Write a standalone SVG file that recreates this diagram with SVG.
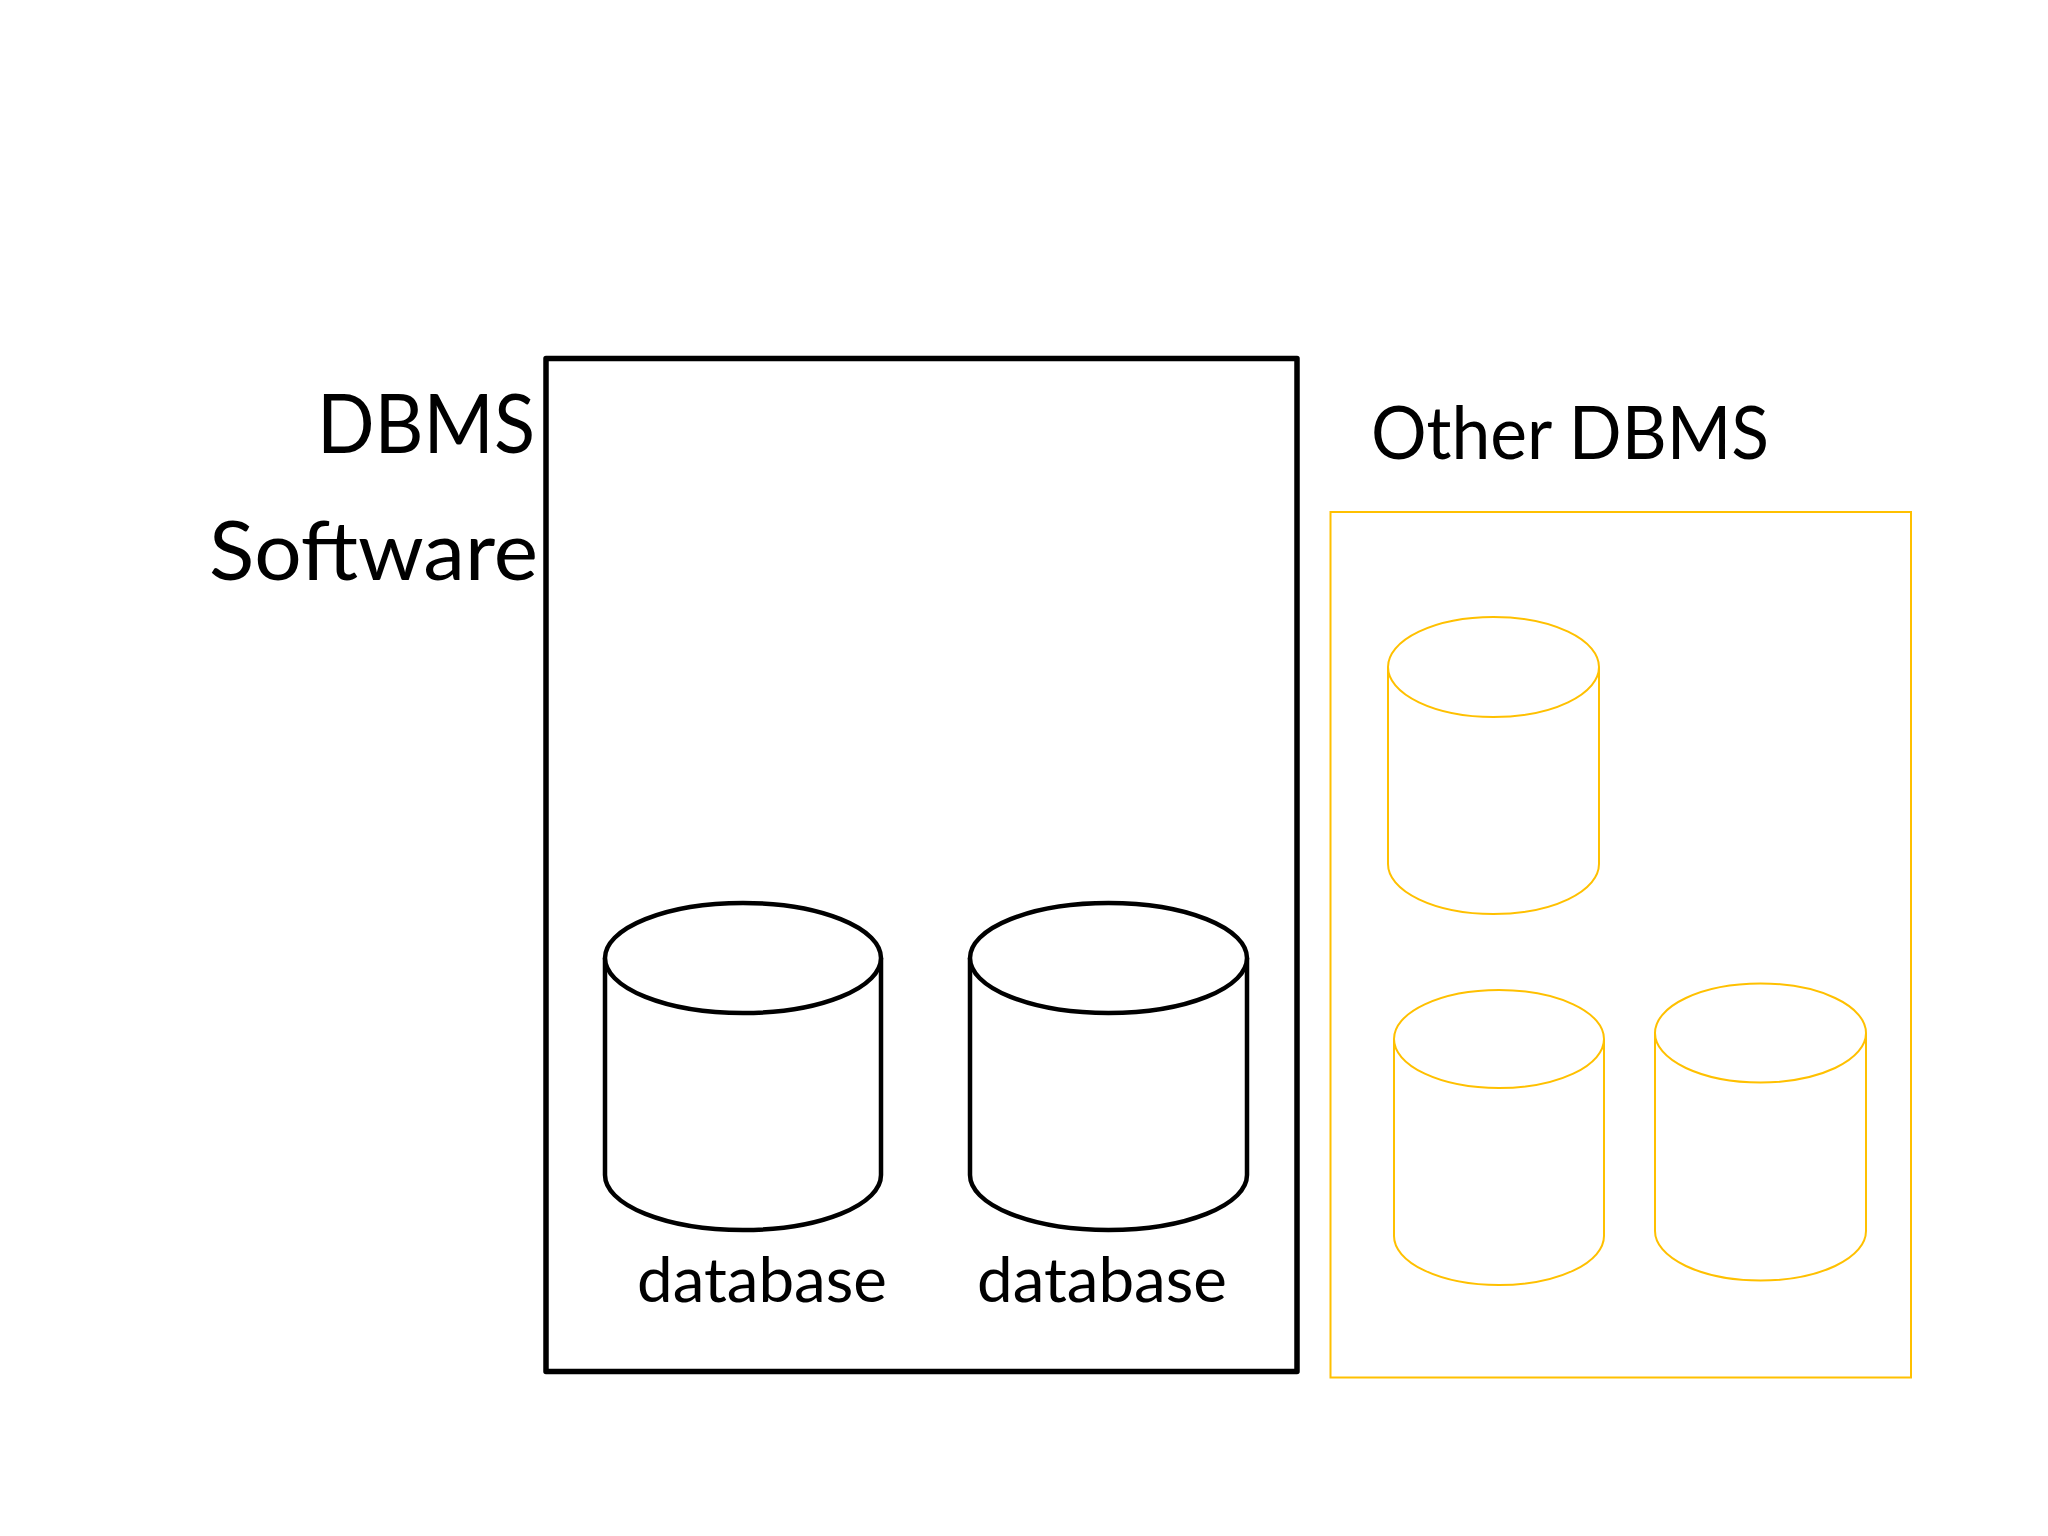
<svg xmlns="http://www.w3.org/2000/svg" width="2048" height="1536" viewBox="0 0 2048 1536">
  <style>
    .lbl { font-family: Lato, "Open Sans", "Liberation Sans", sans-serif; fill: #000; }
    .big { font-size: 81px; }
    .other { font-size: 73px; }
    .db { font-size: 61px; }
    .blk { fill: #fff; stroke: #000; stroke-width: 4.5; stroke-linejoin: round; }
    .yel { fill: #fff; stroke: #FFC000; stroke-width: 2; }
  </style>
  <rect x="0" y="0" width="2048" height="1536" fill="#fff"/>

  <g id="dbms-software">
    <rect x="546" y="358.5" width="751" height="1013" fill="none" stroke="#000" stroke-width="5.5" stroke-linejoin="round"/>
    <text class="lbl big" x="535" y="453" text-anchor="end" textLength="218" lengthAdjust="spacingAndGlyphs">DBMS</text>
    <text class="lbl big" x="538" y="580" text-anchor="end" textLength="329" lengthAdjust="spacingAndGlyphs">Software</text>
  </g>

  <g id="database-1">
    <path class="blk" d="M605,958 V1175 A138,55 0 0 0 881,1175 V958"/>
    <ellipse class="blk" cx="743" cy="958" rx="138" ry="55"/>
    <text class="lbl db" x="762" y="1302" text-anchor="middle" textLength="250" lengthAdjust="spacingAndGlyphs">database</text>
  </g>

  <g id="database-2">
    <path class="blk" d="M970,958 V1175 A138.5,55 0 0 0 1247,1175 V958"/>
    <ellipse class="blk" cx="1108.5" cy="958" rx="138.5" ry="55"/>
    <text class="lbl db" x="1102" y="1302" text-anchor="middle" textLength="250" lengthAdjust="spacingAndGlyphs">database</text>
  </g>

  <g id="other-dbms">
    <rect x="1330.5" y="512" width="580.5" height="865.5" fill="none" stroke="#FFC000" stroke-width="2"/>
    <text class="lbl other" x="1371" y="459" textLength="398" lengthAdjust="spacingAndGlyphs">Other DBMS</text>
  </g>

  <g id="other-db-1">
    <path class="yel" d="M1388,667 V864 A105.5,50 0 0 0 1599,864 V667"/>
    <ellipse class="yel" cx="1493.5" cy="667" rx="105.5" ry="50"/>
  </g>

  <g id="other-db-2">
    <path class="yel" d="M1394,1039 V1236 A105,49 0 0 0 1604,1236 V1039"/>
    <ellipse class="yel" cx="1499" cy="1039" rx="105" ry="49"/>
  </g>

  <g id="other-db-3">
    <path class="yel" d="M1655,1033 V1231 A105.5,49.5 0 0 0 1866,1231 V1033"/>
    <ellipse class="yel" cx="1760.5" cy="1033" rx="105.5" ry="49.5"/>
  </g>

  <g id="connectors"></g>
</svg>
